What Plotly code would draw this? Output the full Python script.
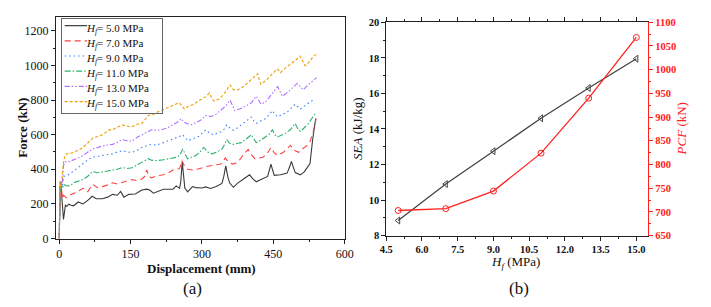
import plotly.graph_objects as go

# ---------------- data: force-displacement curves (displacement mm, force kN) ----------------
hf_labels = ["5.0", "7.0", "9.0", "11.0", "13.0", "15.0"]

curve_5 = [(0, 0), (1.5, 250), (3, 330), (5, 260), (7, 200), (9, 110), (11, 150), (13, 195), (16, 185),
           (20, 198), (25, 192), (30, 189), (40, 211), (50, 200), (60.6, 222), (69.4, 244), (77.7, 230),
           (91, 230), (101.7, 239), (112, 255), (122, 250), (129, 272), (136, 239), (146, 255), (160, 257),
           (173.6, 280), (184, 285), (190, 280), (198, 262), (210, 275), (219, 285), (239, 285), (246, 304),
           (253, 290), (255.5, 330), (258.5, 443), (261.5, 330), (264, 292), (270, 270), (280, 300), (287, 294),
           (300, 292), (308, 298), (318, 289), (330, 300), (342, 318), (346, 360), (350, 420), (354, 360),
           (358, 322), (366, 296), (375, 320), (386, 341), (400, 368), (407, 345), (414, 328), (424, 341),
           (438, 359), (442, 400), (445, 430), (448, 400), (452, 365), (465, 368), (479, 378), (485, 420),
           (488, 446), (491, 420), (496, 381), (506.5, 368), (515, 385), (520, 405), (527, 433), (532.6, 572),
           (539, 693)]

curve_7 = [(0, 0), (1, 180), (2, 300), (3, 240), (5, 280), (7, 230), (9, 250), (15, 235), (25, 255),
           (35, 265), (50, 290), (60, 270), (70, 313), (80, 295), (91, 300), (102, 310), (112, 322), (122, 315),
           (132, 322), (142, 330), (153, 341), (163, 335), (174, 344), (180, 360), (184, 396), (188, 360),
           (194, 350), (205, 362), (219, 368), (230, 380), (239, 396), (248, 400), (253, 405), (258, 450),
           (263, 420), (270, 400), (280, 396), (290, 400), (308, 415), (325, 424), (340, 430), (349, 465),
           (356, 440), (365, 430), (376, 443), (386, 480), (397, 515), (405, 480), (411, 461), (420, 465),
           (428, 470), (437, 490), (445, 526), (452, 495), (459, 480), (472, 500), (486, 539), (494, 510),
           (503, 498), (512, 520), (520, 535), (527, 560), (534, 620), (540, 694)]

curve_9 = [(0, 0), (1, 220), (2, 320), (3, 290), (5, 310), (7, 300), (9, 359), (19.5, 368), (30, 387),
           (40, 410), (50, 433), (60, 455), (70, 470), (80, 475), (91, 480), (102, 485), (112, 489), (122, 500),
           (132, 507), (143, 500), (153, 498), (164, 510), (174, 526), (187, 540), (194, 544), (205, 540),
           (219, 554), (232, 565), (246, 581), (253, 590), (259.6, 600), (265, 580), (270, 565), (280, 575),
           (294, 591), (301, 610), (308, 628), (316, 610), (325, 598), (333, 610), (342, 619), (348, 635),
           (352, 656), (358, 640), (366, 625), (375, 640), (383, 656), (393, 680), (404, 702), (409, 680),
           (414, 665), (424, 680), (434, 693), (441, 715), (448, 739), (454, 715), (459, 702), (468, 715),
           (479, 730), (488, 755), (496, 776), (502, 760), (507, 748), (515, 765), (524, 785), (530, 795),
           (537, 804)]

curve_11 = [(0, 0), (1, 200), (2, 310), (3, 280), (5, 300), (7, 290), (9, 313), (15, 305), (23, 304),
            (30, 322), (40, 330), (50, 341), (60, 360), (70, 387), (80, 380), (91, 387), (102, 390), (112, 396),
            (122, 400), (132, 410), (143, 405), (153, 409), (164, 425), (174, 443), (187, 461), (194, 452),
            (205, 450), (219, 455), (230, 461), (239, 465), (248, 470), (255, 490), (259.6, 517), (265, 485),
            (270, 461), (280, 470), (287, 480), (296, 500), (304, 526), (312, 500), (321, 489), (332, 500),
            (342, 517), (348, 545), (352, 572), (358, 550), (366, 544), (375, 550), (383, 554), (393, 575),
            (404, 600), (409, 575), (414, 554), (422, 565), (431, 581), (440, 600), (448, 628), (453, 600),
            (459, 587), (468, 600), (476, 609), (486, 630), (496, 665), (502, 630), (507, 619), (515, 640),
            (524, 665), (533, 702), (540, 730)]

curve_13 = [(0, 0), (1, 230), (2, 330), (3, 290), (5, 310), (7, 330), (9, 420), (12, 443), (19.5, 443),
            (30, 452), (40, 465), (50, 480), (60, 500), (70, 517), (80, 525), (91, 535), (102, 540), (112, 544),
            (122, 555), (132, 572), (143, 565), (153, 563), (164, 585), (174, 600), (184, 612), (194, 628),
            (205, 625), (215, 628), (228, 640), (240, 660), (250, 675), (256, 693), (263, 670), (276, 656),
            (287, 670), (297, 683), (308, 711), (318, 705), (328, 715), (340, 740), (350, 765), (359, 800),
            (364, 765), (369, 739), (380, 750), (392, 765), (404, 785), (414, 822), (419, 800), (424, 776),
            (434, 790), (446, 830), (452, 855), (459, 878), (464, 850), (469, 822), (480, 845), (490, 870),
            (500, 896), (506, 880), (513, 859), (522, 885), (532, 910), (541, 930)]

curve_15 = [(0, 0), (1, 250), (2, 330), (3, 300), (5, 320), (7, 380), (9, 440), (12, 480), (16, 489),
            (23, 490), (30, 498), (40, 510), (50, 526), (60, 555), (71, 581), (80, 590), (91, 600), (105, 628),
            (112, 628), (120, 640), (132, 656), (142, 650), (153, 646), (164, 660), (174, 665), (187, 711),
            (200, 720), (210, 735), (221, 748), (232, 760), (240, 770), (246, 775), (252, 785), (257, 770),
            (263, 748), (272, 765), (283, 776), (290, 790), (300, 805), (308, 820), (316, 841), (320, 815),
            (325, 794), (335, 805), (345, 830), (352, 855), (359, 887), (366, 859), (375, 860), (383, 868),
            (392, 890), (400, 905), (408, 925), (417, 952), (421, 915), (424, 891), (435, 915), (445, 945),
            (452, 965), (458, 980), (462, 970), (465, 958), (475, 985), (485, 1005), (495, 1025), (501, 1040),
            (506, 1054), (512, 1025), (517, 998), (527, 1025), (534, 1054), (541, 1065)]

# ---------------- data: SEA and PCF vs Hf ----------------
hf_values = [5, 7, 9, 11, 13, 15]
sea_values = [8.85, 10.9, 12.75, 14.6, 16.3, 17.95]
pcf_values = [703, 707, 744, 824, 940, 1068]

curves = [curve_5, curve_7, curve_9, curve_11, curve_13, curve_15]
colors = ["#3a3a3a", "#ff4040", "#3a7dff", "#2eb06a", "#b070ff", "#eaa000"]
dashes = ["solid", "6px,4px", "1.5px,3px", "6px,2px,1.5px,2px", "5px,2px,1.5px,2px,1.5px,2px", "3px,2px"]

SERIF = "Liberation Serif"

fig = go.Figure()

for lab, pts, col, dsh in zip(hf_labels, curves, colors, dashes):
    xs = [p[0] for p in pts]
    ys = [p[1] for p in pts]
    fig.add_trace(go.Scatter(
        x=xs, y=ys, mode="lines",
        line=dict(color=col, width=1.1, dash=dsh),
        name=f"<i>H</i><sub><i>f</i></sub>= {lab} MPa",
        xaxis="x", yaxis="y", showlegend=False))

fig.add_trace(go.Scatter(
    x=hf_values, y=sea_values, mode="lines+markers",
    line=dict(color="#444444", width=1.3),
    marker=dict(symbol="triangle-left-open", size=6, color="#444444", line=dict(width=1)),
    xaxis="x2", yaxis="y2", showlegend=False))

fig.add_trace(go.Scatter(
    x=hf_values, y=pcf_values, mode="lines+markers",
    line=dict(color="#ff2020", width=1.3),
    marker=dict(symbol="circle-open", size=6, color="#ff2020", line=dict(width=1)),
    xaxis="x2", yaxis="y3", showlegend=False))

W, H = 711, 307
def px(x):
    return x / W
def py(y):
    return 1 - y / H

axis_common = dict(showline=True, linecolor="#222", linewidth=1, showgrid=False, zeroline=False,
                   ticks="outside", ticklen=4, tickcolor="#222")

def ann(text, x, y, size, angle=0, color="#111", xanchor="center"):
    return dict(text=text, x=px(x), y=py(y), xref="paper", yref="paper", showarrow=False,
                xanchor=xanchor, yanchor="middle", textangle=angle, borderpad=0,
                font=dict(size=size, family=SERIF, color=color))

# legend frame (empty bordered annotation) in the upper-left corner of panel (a)
annotations = [
    dict(text=" ", x=px(55), y=py(14), xref="paper", yref="paper", showarrow=False,
         xanchor="left", yanchor="top", width=100, height=94, borderpad=0,
         bordercolor="#666666", borderwidth=1, bgcolor="rgba(0,0,0,0)",
         font=dict(size=10, family=SERIF)),
    ann("<b>Force (kN)</b>", 16, 128, 13, angle=-90),
    ann("<b>Displacement (mm)</b>", 199, 274, 13),
    ann("<i>SEA</i> (kJ/kg)", 359, 129, 13, angle=-90),
    ann("<i>PCF</i> (kN)", 690, 129, 13, angle=-90, color="#ff2020"),
    ann("<i>H</i><sub><i>f</i></sub> (MPa)", 520, 268, 13),
    ann("(a)", 190, 295, 17),
    ann("(b)", 524, 295, 17),
]

shapes = []
for i, (lab, col, dsh) in enumerate(zip(hf_labels, colors, dashes)):
    yy = 21.5 + 15.8 * i
    shapes.append(dict(type="line", xref="paper", yref="paper", x0=px(59), x1=px(82), y0=py(yy), y1=py(yy),
                       line=dict(color=col, width=1.2, dash=dsh), layer="above"))
    annotations.append(ann(f"<i>H</i><sub><i>f</i></sub>= {lab} MPa", 80, yy + 3, 11, xanchor="left"))

fig.update_layout(
    width=W, height=H,
    margin=dict(l=0, r=0, t=0, b=0),
    paper_bgcolor="white", plot_bgcolor="white",
    font=dict(family=SERIF, color="#111"),
    showlegend=False,
    xaxis=dict(**axis_common, domain=[px(50), px(345.5)], range=[-7, 600], tickvals=[0, 150, 300, 450, 600],
               minor=dict(dtick=75, ticks="outside", ticklen=2, tickcolor="#222"),
               mirror=True, tickfont=dict(size=12, family=SERIF), anchor="y"),
    yaxis=dict(**axis_common, domain=[py(243), py(12.5)], range=[0, 1280], tickvals=[0, 200, 400, 600, 800, 1000, 1200],
               minor=dict(dtick=100, ticks="outside", ticklen=2, tickcolor="#222"),
               mirror=True, tickfont=dict(size=12, family=SERIF), anchor="x"),
    xaxis2=dict(**axis_common, domain=[px(388), px(656)], range=[4.5, 15.5],
                tickvals=[4.5, 6.0, 7.5, 9.0, 10.5, 12.0, 13.5, 15.0],
                ticktext=["4.5", "6.0", "7.5", "9.0", "10.5", "12.0", "13.5", "15.0"],
                minor=dict(dtick=0.75, tick0=4.5, ticks="outside", ticklen=2, tickcolor="#222"),
                mirror="ticks", tickfont=dict(size=10.5, family=SERIF, weight="bold"), anchor="y2"),
    yaxis2=dict(**axis_common, domain=[py(240), py(18)], range=[8, 20], tickvals=[8, 10, 12, 14, 16, 18, 20],
                minor=dict(dtick=1, ticks="outside", ticklen=2, tickcolor="#222"),
                tickfont=dict(size=10.5, family=SERIF, weight="bold"), anchor="x2"),
    yaxis3=dict(showline=True, linecolor="#ff2020", linewidth=1, showgrid=False, zeroline=False,
                ticks="outside", ticklen=4, tickcolor="#ff2020",
                domain=[py(240), py(18)], range=[650, 1100], tickvals=list(range(650, 1101, 50)),
                minor=dict(dtick=25, ticks="outside", ticklen=2, tickcolor="#ff2020"),
                tickfont=dict(size=10.5, family=SERIF, weight="bold", color="#ff2020"),
                overlaying="y2", side="right", anchor="x2"),
    annotations=annotations,
    shapes=shapes,
)

fig.write_html("out.html", config={"displayModeBar": False},
               post_script="document.body.style.margin='0';document.body.style.overflow='hidden';")
